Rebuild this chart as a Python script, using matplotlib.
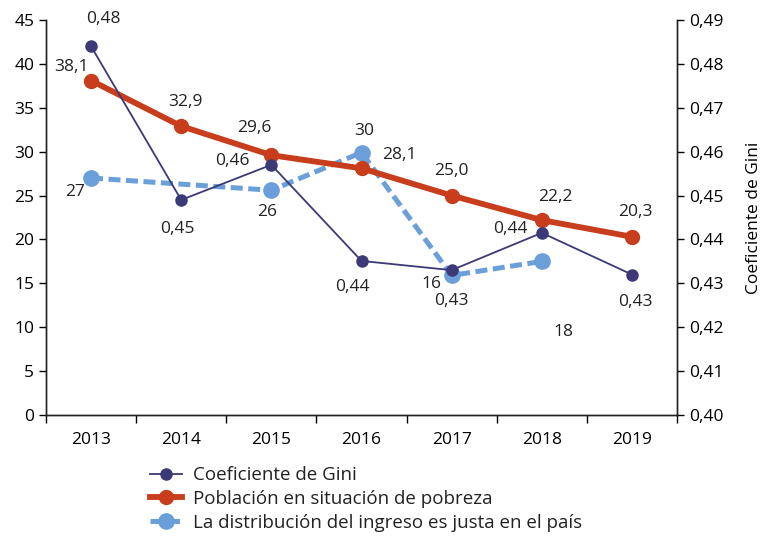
import matplotlib.pyplot as plt
import numpy as np

years = ["2013", "2014", "2015", "2016", "2017", "2018", "2019"]
gini = [0.484, 0.449, 0.457, 0.4351, 0.433, 0.4415, 0.432]
pobreza = [38.1, 32.9, 29.6, 28.1, 25.0, 22.2, 20.3]
# no survey value for 2014 and 2019
justa = [27, np.nan, 25.6, 29.9, 15.9, 17.5, np.nan]

# label offsets in pixels (dx, dy)
gini_off = [(12, 27), (-4, -29), (-39, 4), (-9, -26), (0, -31), (-31, 4), (3, -27)]
pob_off = [(-20, 14), (4, 24), (-17, 27), (38, 13), (0, 25), (14, 23), (3, 25)]
justa_off = [(-16, -14), None, (-4, -22), (3, 22), (-20, -9), (22, -71), None]

NAVY = "#3c3977"
RED = "#c83d1c"
BLUE = "#6a9fd9"
plt.rcParams["font.family"] = ["Open Sans", "DejaVu Sans"]
plt.rcParams["text.color"] = "#222222"

fig = plt.figure(figsize=(7.65, 5.37), dpi=100)
ax = fig.add_axes([0.0601, 0.2272, 0.8249, 0.7356])
ax2 = ax.twinx()

x = np.arange(len(years))
jx = np.array([i for i, v in enumerate(justa) if not np.isnan(v)])
jv = np.array([v for v in justa if not np.isnan(v)])

l3, = ax.plot(jx, jv, color=BLUE, lw=3.6, ls=(0, (2.4, 1.1)), marker="o",
              ms=11, zorder=2, label="La distribución del ingreso es justa en el país")
l2, = ax.plot(x, pobreza, color=RED, lw=4.2, marker="o", ms=10, zorder=3,
              label="Población en situación de pobreza")
l1, = ax2.plot(x, gini, color=NAVY, lw=1.3, marker="o", ms=8, zorder=4,
               label="Coeficiente de Gini")

fs = 12.5
for i, v in enumerate(pobreza):
    ax.annotate(f"{v:.1f}".replace(".", ","), (i, v), xytext=pob_off[i],
                textcoords="offset pixels", ha="center", va="center", fontsize=fs)
for i, v in enumerate(justa):
    if justa_off[i] is None:
        continue
    ax.annotate(f"{v:.0f}", (i, v), xytext=justa_off[i],
                textcoords="offset pixels", ha="center", va="center", fontsize=fs)
for i, v in enumerate(gini):
    ax2.annotate(f"{v:.2f}".replace(".", ","), (i, v), xytext=gini_off[i],
                 textcoords="offset pixels", ha="center", va="center", fontsize=fs)

ax.set_xlim(-0.5, 6.5)
ax.set_ylim(0, 45)
ax.set_yticks(range(0, 50, 5))
ax2.set_ylim(0.40, 0.49)
ax2.set_yticks(np.arange(0.40, 0.4951, 0.01))
ax2.set_yticklabels([f"{t:.2f}".replace(".", ",") for t in np.arange(0.40, 0.4951, 0.01)])
ax2.set_ylabel("Coeficiente de Gini", fontsize=12.5, labelpad=16)

ax.set_xticks(x)
ax.set_xticklabels(years)
ax.set_xticks(np.arange(-0.5, 7, 1), minor=True)
ax.tick_params(axis="x", which="major", length=0, pad=12, labelsize=fs)
ax.tick_params(axis="x", which="minor", length=6, width=1, direction="out")
ax.tick_params(axis="y", length=5, width=1, labelsize=fs)
ax2.tick_params(axis="y", length=5, width=1, labelsize=fs)

for a in (ax, ax2):
    a.spines["top"].set_visible(False)
    for s in ("left", "right", "bottom"):
        a.spines[s].set_linewidth(1.0)
        a.spines[s].set_color("#222222")

fig.legend(handles=[l1, l2, l3], loc="upper left", bbox_to_anchor=(0.186, 0.1456),
           frameon=False, fontsize=13.5, handlelength=1.7, labelspacing=0.3,
           borderaxespad=0, handletextpad=0.6)

fig.savefig("out.png", dpi=100)
